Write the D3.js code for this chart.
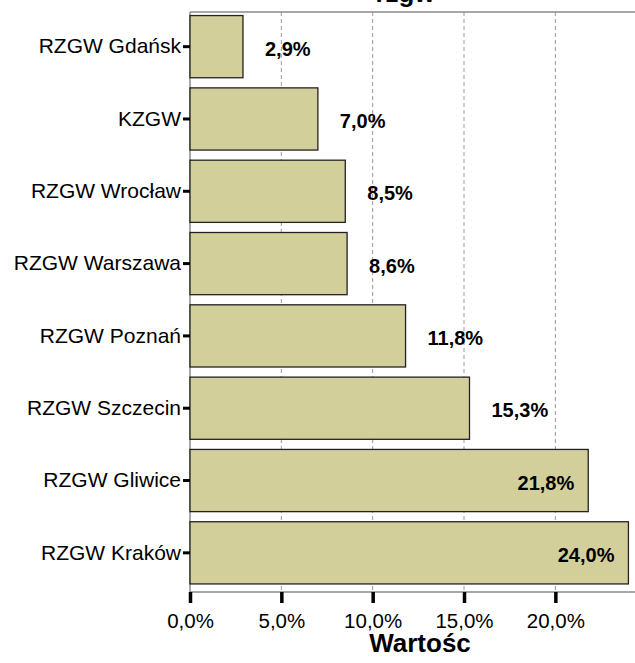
<!DOCTYPE html>
<html>
<head>
<meta charset="utf-8">
<script src="https://cdn.jsdelivr.net/npm/d3@7"></script>
<style>
  body { margin: 0; background: #fff; }
  svg { display: block; font-family: "Liberation Sans", Arial, sans-serif; }
</style>
</head>
<body>
<script>
// data
var categories = ["RZGW Gdańsk", "KZGW", "RZGW Wrocław", "RZGW Warszawa",
                  "RZGW Poznań", "RZGW Szczecin", "RZGW Gliwice", "RZGW Kraków"];
var values = [2.9, 7.0, 8.5, 8.6, 11.8, 15.3, 21.8, 24.0];
var xTicks = [0, 5, 10, 15, 20];
var chartTitle = "rzgw";
var xTitle = "Wartośc";

var width = 635, height = 663;
var plotLeft = 190, plotTop = 12, plotBottom = 592;
var font = "'Liberation Sans', Arial, sans-serif";

var svg = d3.select("body").append("svg")
    .attr("width", width)
    .attr("height", height);

var x = d3.scaleLinear().domain([0, 24.36]).range([plotLeft, width]);
var y = d3.scaleBand().domain(categories).range([10.5, 589])
    .paddingInner(0.14).paddingOuter(0.07);

var fmt = function(d) { return d.toFixed(1).replace(".", ",") + "%"; };

// dashed grid lines
svg.selectAll(".grid")
    .data(xTicks.filter(function(d) { return d > 0; }))
    .enter().append("line")
    .attr("class", "grid")
    .attr("x1", function(d) { return x(d); })
    .attr("x2", function(d) { return x(d); })
    .attr("y1", plotTop)
    .attr("y2", plotBottom)
    .style("stroke", "#9a9a9a")
    .style("stroke-width", 1)
    .style("stroke-dasharray", "4,3");

// frame lines (top, bottom, left)
svg.append("line").attr("x1", plotLeft).attr("x2", width).attr("y1", plotTop).attr("y2", plotTop)
    .style("stroke", "#8a8a8a").style("stroke-width", 1.5);
svg.append("line").attr("x1", plotLeft).attr("x2", width).attr("y1", plotBottom).attr("y2", plotBottom)
    .style("stroke", "#8a8a8a").style("stroke-width", 1.5);
svg.append("line").attr("x1", plotLeft).attr("x2", plotLeft).attr("y1", plotTop).attr("y2", plotBottom)
    .style("stroke", "#8a8a8a").style("stroke-width", 1.5);

// bars
svg.selectAll(".bar")
    .data(values)
    .enter().append("rect")
    .attr("class", "bar")
    .attr("x", x(0))
    .attr("y", function(d, i) { return y(categories[i]); })
    .attr("width", function(d) { return x(d) - x(0); })
    .attr("height", y.bandwidth())
    .style("fill", "#d3cf9b")
    .style("stroke", "#222")
    .style("stroke-width", 1.3);

// value labels
svg.selectAll(".val")
    .data(values)
    .enter().append("text")
    .attr("class", "val")
    .attr("x", function(d) { return d > 20 ? x(d) - 14 : x(d) + 22; })
    .attr("y", function(d, i) { return y(categories[i]) + y.bandwidth() / 2 + 2; })
    .attr("dy", "0.35em")
    .attr("text-anchor", function(d) { return d > 20 ? "end" : "start"; })
    .style("font-family", font)
    .style("font-size", "20px")
    .style("font-weight", "bold")
    .style("fill", "#000")
    .text(fmt);

// y axis
var yAxis = svg.append("g")
    .attr("transform", "translate(" + plotLeft + ",0)")
    .call(d3.axisLeft(y).tickSize(7).tickPadding(2));
yAxis.select(".domain").remove();
yAxis.selectAll(".tick line").style("stroke", "#000").style("stroke-width", 3);
yAxis.selectAll(".tick text").style("font-size", "21px").style("fill", "#000")
    .style("font-family", font);

// x axis
var xAxis = svg.append("g")
    .attr("transform", "translate(0," + plotBottom + ")")
    .call(d3.axisBottom(x).tickValues(xTicks).tickFormat(fmt).tickSize(11).tickPadding(10));
xAxis.select(".domain").remove();
xAxis.selectAll(".tick line").style("stroke", "#000").style("stroke-width", 3.5);
xAxis.selectAll(".tick text").style("font-size", "20.5px").style("fill", "#000")
    .style("font-family", font);

// titles (the chart title is cut off at the top in the original)
svg.append("text")
    .attr("x", 405)
    .attr("y", 2)
    .attr("text-anchor", "middle")
    .style("font-family", font)
    .style("font-size", "26px")
    .style("font-weight", "bold")
    .text(chartTitle);

svg.append("text")
    .attr("x", 420)
    .attr("y", 652)
    .attr("text-anchor", "middle")
    .style("font-family", font)
    .style("font-size", "26px")
    .style("font-weight", "bold")
    .text(xTitle);
</script>
</body>
</html>
